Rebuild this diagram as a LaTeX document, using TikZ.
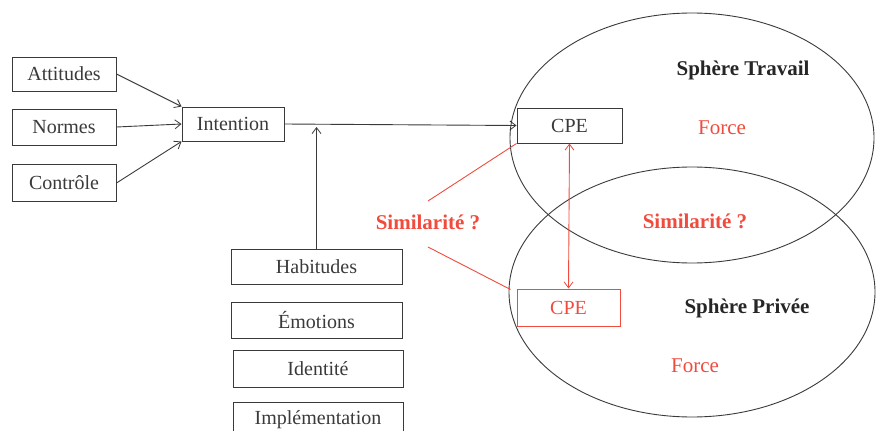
\documentclass[tikz,border=0pt]{standalone}
\usepackage{fontspec}
\setmainfont{Liberation Serif}
\usetikzlibrary{calc,arrows.meta}
\definecolor{ink}{HTML}{3A3A3A}
\definecolor{alert}{HTML}{F04B3C}
\tikzset{
  tip/.tip={Straight Barb[length=6pt,width=9pt,line width=0.8pt]},
  box/.style={draw=ink, line width=1pt, inner sep=0pt, text=ink,
    font=\fontsize{20}{22}\selectfont},
  redbox/.style={box, draw=alert, text=alert},
  conn/.style={draw=ink, line width=0.9pt, -tip},
  redconn/.style={draw=alert, line width=0.9pt},
  sphere/.style={draw=ink, line width=0.9pt},
  title/.style={text=black!85, font=\fontsize{21}{23}\selectfont\bfseries},
  forcelbl/.style={text=alert, font=\fontsize{21}{23}\selectfont},
  simlbl/.style={text=alert, font=\fontsize{21}{23}\selectfont\bfseries},
}
\begin{document}
\begin{tikzpicture}[x=1pt, y=-1pt]
\useasboundingbox (0,0) rectangle (876,431);
\clip (0,0) rectangle (876,431);

% the two spheres
\draw[sphere] (692,138) ellipse [x radius=182, y radius=125];
\draw[sphere] (692,292) ellipse [x radius=183, y radius=125];

% inputs to the intention
\node[box, minimum width=104pt, minimum height=34pt] (att) at (64,74) {Attitudes};
\node[box, minimum width=104pt, minimum height=36pt] (nor) at (64,127) {Normes};
\node[box, minimum width=104pt, minimum height=37pt] (con) at (64,183) {Contrôle};
\node[box, minimum width=102pt, minimum height=34pt] (int) at (233,124) {Intention};

% moderating factors
\node[box, minimum width=171pt, minimum height=35pt] (hab) at (316.5,266.5) {Habitudes};
\node[box, minimum width=171pt, minimum height=36pt] (emo) at (316.5,320) {Émotions};
\node[box, minimum width=170pt, minimum height=37pt] (ide) at (318,368.5) {Identité};
\node[box, minimum width=170pt, minimum height=36pt] (imp) at (318,420) {Implémentation};

% behaviours in each sphere
\node[box, minimum width=105pt, minimum height=35pt] (cpe1) at (569.5,125.5) {CPE};
\node[redbox, minimum width=103pt, minimum height=37pt] (cpe2) at (568.5,307.5) {CPE};

% labels
\node[title] (st) at (743,70) {Sphère Travail};
\node[title] (sp) at (747,308) {Sphère Privée};
\node[forcelbl] (f1) at (722,128) {Force};
\node[forcelbl] (f2) at (695,366) {Force};
\node[simlbl] (simR) at (695,221) {Similarité ?};
\node[simlbl] (simL) at (428,222) {Similarité ?};
\coordinate (sa) at (428,201);
\coordinate (sb) at (428,247);

% connectors
\draw[conn] (att.east) -- (int.north west);
\draw[conn] (nor.east) -- (int.west);
\draw[conn] (con.east) -- (int.south west);
\draw[conn] (int.east) -- (cpe1.west);
\draw[conn] (hab.north) -- ($(hab.north |- int.east)+(0,3)$);
\draw[redconn, tip-tip] (cpe1.south) -- (cpe2.north);
\draw[redconn] (sa) -- (cpe1.south west);
\draw[redconn] (sb) -- ($(cpe2.north west)+(-6,1)$);
\end{tikzpicture}
\end{document}
